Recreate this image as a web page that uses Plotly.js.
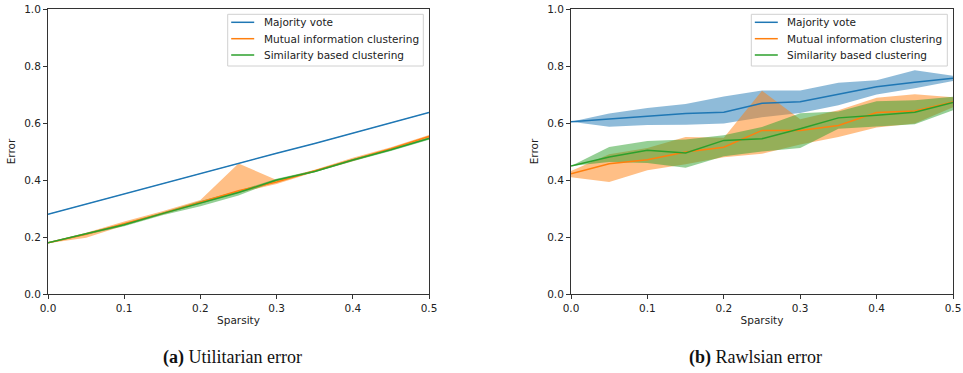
<!DOCTYPE html>
<html>
<head>
<meta charset="utf-8">
<script src="https://cdn.plot.ly/plotly-3.0.1.min.js"></script>
<style>html,body{margin:0;padding:0;background:#fff;}#chart{width:963px;height:373px;}</style>
</head>
<body>
<div id="chart"></div>
<script>
// ---- data ----
const sparsity = [0, 0.05, 0.1, 0.15, 0.2, 0.25, 0.3, 0.35, 0.4, 0.45, 0.5];
const seriesNames = ["Majority vote", "Mutual information clustering", "Similarity based clustering"];

// (a) Utilitarian error
const utilMajority      = [0.280, 0.316, 0.352, 0.388, 0.424, 0.460, 0.494, 0.528, 0.565, 0.600, 0.637];
const utilMajorityLow   = [0.279, 0.315, 0.351, 0.387, 0.423, 0.459, 0.493, 0.527, 0.564, 0.599, 0.636];
const utilMajorityHigh  = [0.281, 0.317, 0.353, 0.389, 0.425, 0.461, 0.495, 0.529, 0.566, 0.601, 0.638];
const utilMutual        = [0.180, 0.210, 0.247, 0.283, 0.322, 0.362, 0.393, 0.432, 0.472, 0.510, 0.553];
const utilMutualLow     = [0.178, 0.197, 0.240, 0.278, 0.318, 0.355, 0.386, 0.428, 0.466, 0.505, 0.548];
const utilMutualHigh    = [0.182, 0.215, 0.254, 0.290, 0.330, 0.458, 0.400, 0.436, 0.478, 0.515, 0.558];
const utilSimilar       = [0.180, 0.212, 0.243, 0.282, 0.320, 0.356, 0.400, 0.430, 0.470, 0.506, 0.546];
const utilSimilarLow    = [0.178, 0.209, 0.238, 0.276, 0.308, 0.346, 0.396, 0.427, 0.466, 0.502, 0.541];
const utilSimilarHigh   = [0.182, 0.215, 0.247, 0.286, 0.326, 0.362, 0.404, 0.434, 0.474, 0.510, 0.550];

// (b) Rawlsian error
const rawlMajority      = [0.604, 0.615, 0.624, 0.633, 0.638, 0.669, 0.675, 0.701, 0.727, 0.743, 0.757];
const rawlMajorityLow   = [0.604, 0.587, 0.593, 0.594, 0.598, 0.620, 0.635, 0.662, 0.700, 0.722, 0.747];
const rawlMajorityHigh  = [0.604, 0.633, 0.653, 0.667, 0.693, 0.714, 0.714, 0.741, 0.750, 0.785, 0.766];
const rawlMutual        = [0.422, 0.457, 0.471, 0.498, 0.515, 0.574, 0.574, 0.591, 0.637, 0.642, 0.674];
const rawlMutualLow     = [0.410, 0.393, 0.434, 0.455, 0.480, 0.492, 0.525, 0.551, 0.584, 0.598, 0.655];
const rawlMutualHigh    = [0.432, 0.490, 0.512, 0.551, 0.548, 0.713, 0.613, 0.645, 0.689, 0.701, 0.690];
const rawlSimilar       = [0.449, 0.481, 0.504, 0.495, 0.539, 0.545, 0.580, 0.618, 0.627, 0.638, 0.672];
const rawlSimilarLow    = [0.449, 0.463, 0.460, 0.443, 0.483, 0.500, 0.512, 0.580, 0.588, 0.596, 0.645];
const rawlSimilarHigh   = [0.449, 0.516, 0.537, 0.542, 0.557, 0.586, 0.634, 0.640, 0.676, 0.680, 0.692];

const xTickVals = [0, 0.1, 0.2, 0.3, 0.4, 0.5];
const xTickText = ["0.0", "0.1", "0.2", "0.3", "0.4", "0.5"];
const yTickVals = [0, 0.2, 0.4, 0.6, 0.8, 1.0];
const yTickText = ["0.0", "0.2", "0.4", "0.6", "0.8", "1.0"];
const captions = ["<b>(a)</b> Utilitarian error", "<b>(b)</b> Rawlsian error"];

const lineColors = ["#1f77b4", "#ff7f0e", "#2ca02c"];
const fillColors = ["rgba(31,119,180,0.5)", "rgba(255,127,14,0.5)", "rgba(44,160,44,0.5)"];

// ---- build traces ----
const traces = [];
function addPanel(xa, ya, sets) {
  sets.forEach((s, i) => {
    traces.push({x: sparsity, y: s[1], xaxis: xa, yaxis: ya, mode: "lines",
      line: {width: 0, color: lineColors[i]}, showlegend: false, hoverinfo: "skip"});
    traces.push({x: sparsity, y: s[2], xaxis: xa, yaxis: ya, mode: "lines", fill: "tonexty",
      fillcolor: fillColors[i], line: {width: 0, color: lineColors[i]}, showlegend: false, hoverinfo: "skip"});
  });
  sets.forEach((s, i) => {
    traces.push({x: sparsity, y: s[0], xaxis: xa, yaxis: ya, mode: "lines", name: seriesNames[i],
      line: {width: 1.5, color: lineColors[i]}, showlegend: false});
  });
}
addPanel("x", "y", [
  [utilMajority, utilMajorityLow, utilMajorityHigh],
  [utilMutual, utilMutualLow, utilMutualHigh],
  [utilSimilar, utilSimilarLow, utilSimilarHigh]
]);
addPanel("x2", "y2", [
  [rawlMajority, rawlMajorityLow, rawlMajorityHigh],
  [rawlMutual, rawlMutualLow, rawlMutualHigh],
  [rawlSimilar, rawlSimilarLow, rawlSimilarHigh]
]);

const W = 963, H = 373;
const px = v => v / W, py = v => 1 - v / H;
const tickFont = {family: "DejaVu Sans", size: 10.5, color: "#222"};
function xAxis(l, r, anchor) {
  return {domain: [px(l), px(r)], anchor: anchor, range: [0, 0.5], tickvals: xTickVals, ticktext: xTickText,
    ticks: "outside", ticklen: 4, tickcolor: "#333", showline: true, linecolor: "#333", linewidth: 1, mirror: true,
    showgrid: false, zeroline: false, tickfont: tickFont,
    title: {text: "Sparsity", font: tickFont, standoff: 4}};
}
function yAxis(anchor) {
  return {domain: [py(294), py(9)], anchor: anchor, range: [0, 1], tickvals: yTickVals, ticktext: yTickText,
    ticks: "outside", ticklen: 4, tickcolor: "#333", showline: true, linecolor: "#333", linewidth: 1, mirror: true,
    showgrid: false, zeroline: false, tickfont: tickFont,
    title: {text: "Error", font: tickFont, standoff: 6}};
}

// ---- matplotlib-style legends (box + line samples + labels) ----
const shapes = [], annotations = [];
function addLegend(boxL, boxR) {
  const top = 14.3, bottom = 66;
  shapes.push({type: "rect", xref: "paper", yref: "paper", x0: px(boxL), x1: px(boxR), y0: py(bottom), y1: py(top),
    fillcolor: "rgba(255,255,255,0.8)", line: {color: "#d0d0d0", width: 1}, layer: "above"});
  const rows = [22.3, 38.7, 55];
  seriesNames.forEach((name, i) => {
    shapes.push({type: "line", xref: "paper", yref: "paper", x0: px(boxL + 3.5), x1: px(boxL + 26.5),
      y0: py(rows[i]), y1: py(rows[i]), line: {color: lineColors[i], width: 1.5}, layer: "above"});
    annotations.push({text: name, xref: "paper", yref: "paper", x: px(boxL + 34), y: py(rows[i]),
      xanchor: "left", yanchor: "middle", showarrow: false, font: {family: "DejaVu Sans", size: 10.5, color: "#222"}});
  });
}
addLegend(227.7, 423.3);
addLegend(751.3, 947.3);

annotations.push({text: captions[0], xref: "paper", yref: "paper", x: px(232), y: py(357),
  xanchor: "center", yanchor: "middle", showarrow: false, font: {family: "Liberation Serif", size: 18, color: "#111"}});
annotations.push({text: captions[1], xref: "paper", yref: "paper", x: px(755.5), y: py(357),
  xanchor: "center", yanchor: "middle", showarrow: false, font: {family: "Liberation Serif", size: 18, color: "#111"}});

const layout = {
  width: W, height: H, margin: {l: 0, r: 0, t: 0, b: 0},
  paper_bgcolor: "#fff", plot_bgcolor: "#fff",
  xaxis: xAxis(48, 429, "y"), yaxis: yAxis("x"),
  xaxis2: xAxis(571, 953, "y2"), yaxis2: yAxis("x2"),
  shapes: shapes, annotations: annotations,
  showlegend: false
};

Plotly.newPlot("chart", traces, layout, {displayModeBar: false, staticPlot: true});
</script>
</body>
</html>
